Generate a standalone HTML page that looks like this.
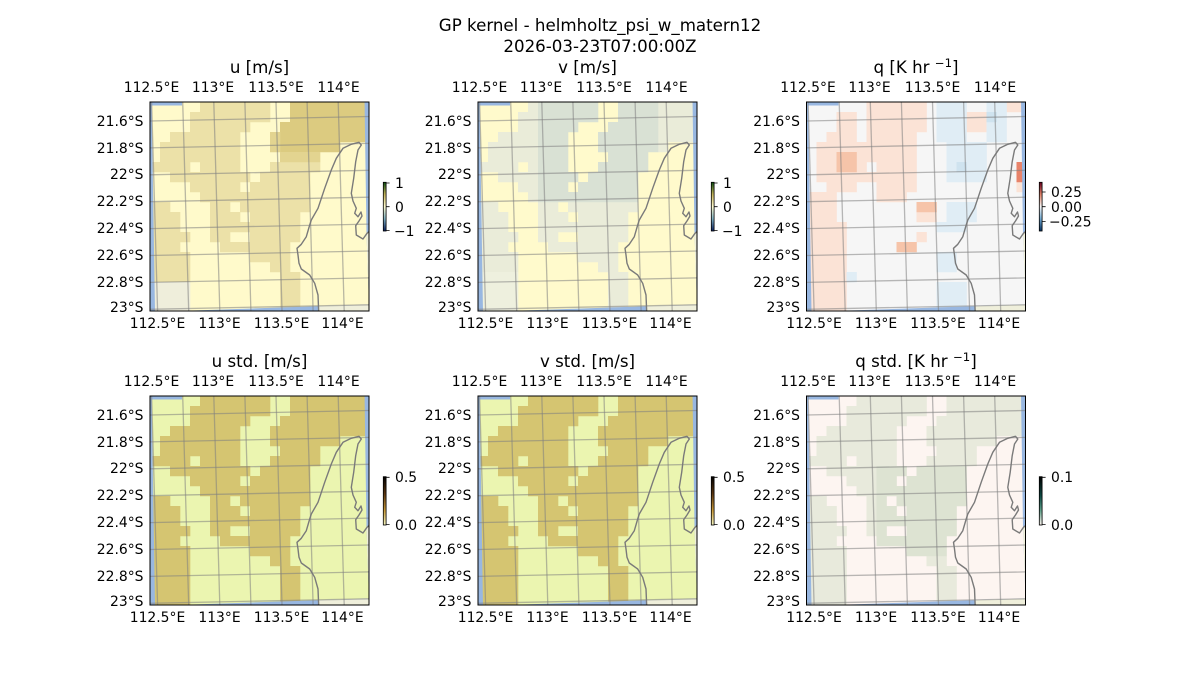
<!DOCTYPE html>
<html><head><meta charset="utf-8">
<style>
html,body{margin:0;padding:0;background:#fff;}
svg{display:block;}
text{font-family:"DejaVu Sans","Liberation Sans",sans-serif;fill:#000;}
.t{font-size:13.9px;}
.ti{font-size:16.67px;}
</style></head><body>
<svg id="fig" width="1200" height="700" viewBox="0 0 1200 700" xmlns="http://www.w3.org/2000/svg" xmlns:xlink="http://www.w3.org/1999/xlink">
<defs>
<clipPath id="pc"><rect x="0" y="0" width="219" height="209"/></clipPath>
<clipPath id="oc"><path clip-rule="evenodd" d="M-2 -2H222V212H-2Z M1.7 3.5 L32 3.5 L32 -3 L214.5 -3 L216.5 131 L219 202.5 L5 209.8 Z"/></clipPath>
<linearGradient id="g_uv" x1="0" y1="0" x2="0" y2="1">
<stop offset="0" stop-color="#0b4d12"/><stop offset="0.25" stop-color="#c4b35a"/><stop offset="0.5" stop-color="#fffbd0"/><stop offset="0.75" stop-color="#7eaec0"/><stop offset="1" stop-color="#0a1f5c"/>
</linearGradient>
<linearGradient id="g_q" x1="0" y1="0" x2="0" y2="1">
<stop offset="0" stop-color="#67001f"/><stop offset="0.25" stop-color="#e08268"/><stop offset="0.5" stop-color="#f7f7f7"/><stop offset="0.75" stop-color="#6fa8d0"/><stop offset="1" stop-color="#053061"/>
</linearGradient>
<linearGradient id="g_s" x1="0" y1="0" x2="0" y2="1">
<stop offset="0" stop-color="#000000"/><stop offset="0.35" stop-color="#5a3510"/><stop offset="0.7" stop-color="#c89a3a"/><stop offset="1" stop-color="#f5f5c0"/>
</linearGradient>
<linearGradient id="g_qs" x1="0" y1="0" x2="0" y2="1">
<stop offset="0" stop-color="#000000"/><stop offset="0.4" stop-color="#0d4a44"/><stop offset="0.7" stop-color="#5fa08a"/><stop offset="1" stop-color="#fff5f0"/>
</linearGradient>
<g id="over">
  <g clip-path="url(#oc)">
    <rect x="-2" y="-2" width="224" height="214" fill="#98b7e1"/>
    <path fill="#efefdb" d="M168.7,214 L168.7,210 L168,193 L164.7,181.3 L159.7,173 L151.3,167 L149,161.3 L148,153 L147,146.3 L151.3,142.3 L156.3,134.7 L159.7,123 L161.3,118 L168,106.3 L174.7,86.3 L181.3,68 L186.3,56.3 L193,46.3 L201.3,42.3 L209,40.3 L211.3,43 L208,48 L205.7,59.7 L203.7,76.3 L201.3,91.3 L203,99 L206.3,106.3 L204.7,111.3 L208,114.7 L211,110 L212,114 L209,119 L205.7,123.7 L206.3,133 L213,137 L217,131.3 L224,127 L224,214 Z"/>
  </g>
  <g stroke="#808080" stroke-opacity="0.55" stroke-width="1.3" fill="none">
    <line x1="1.6" y1="0" x2="7.6" y2="209"/>
    <line x1="32.7" y1="0" x2="38.7" y2="209"/>
    <line x1="63.8" y1="0" x2="69.8" y2="209"/>
    <line x1="94.9" y1="0" x2="100.9" y2="209"/>
    <line x1="126" y1="0" x2="132" y2="209"/>
    <line x1="157.1" y1="0" x2="163.1" y2="209"/>
    <line x1="188.2" y1="0" x2="194.2" y2="209"/>
    <line x1="0" y1="19" x2="219" y2="14.5"/>
    <line x1="0" y1="45.9" x2="219" y2="41.4"/>
    <line x1="0" y1="72.8" x2="219" y2="68.3"/>
    <line x1="0" y1="99.7" x2="219" y2="95.2"/>
    <line x1="0" y1="126.6" x2="219" y2="122.1"/>
    <line x1="0" y1="153.5" x2="219" y2="149"/>
    <line x1="0" y1="180.4" x2="219" y2="175.9"/>
    <line x1="0" y1="207.3" x2="219" y2="202.8"/>
  </g>
  <path fill="none" stroke="#7a7a7a" stroke-width="1.4" stroke-linejoin="round" d="M168.7,210 L168,193 L164.7,181.3 L159.7,173 L151.3,167 L149,161.3 L148,153 L147,146.3 L151.3,142.3 L156.3,134.7 L159.7,123 L161.3,118 L168,106.3 L174.7,86.3 L181.3,68 L186.3,56.3 L193,46.3 L201.3,42.3 L209,40.3 L211.3,43 L208,48 L205.7,59.7 L203.7,76.3 L201.3,91.3 L203,99 L206.3,106.3 L204.7,111.3 L208,114.7 L211,110 L212,114 L209,119 L205.7,123.7 L206.3,133 L213,137 L217,131.3 L222,127"/>
</g>
</defs>
<rect width="1200" height="700" fill="#fff"/>

<!-- suptitle -->
<text class="ti" x="600" y="31" text-anchor="middle">GP kernel - helmholtz_psi_w_matern12</text>
<text class="ti" x="600" y="52" text-anchor="middle">2026-03-23T07:00:00Z</text>

<!-- panels -->
<g transform="translate(150,102)"><g clip-path="url(#pc)"><rect width="219" height="209" fill="#fffacb"/><g id="c0"></g><use xlink:href="#over" href="#over"/></g><rect width="219" height="209" fill="none" stroke="#000" stroke-width="1"/></g>
<g transform="translate(478,102)"><g clip-path="url(#pc)"><rect width="219" height="209" fill="#fffacc"/><g id="c1"></g><use xlink:href="#over" href="#over"/></g><rect width="219" height="209" fill="none" stroke="#000" stroke-width="1"/></g>
<g transform="translate(806.5,102)"><g clip-path="url(#pc)"><rect width="219" height="209" fill="#f6f6f6"/><g id="c2"></g><use xlink:href="#over" href="#over"/></g><rect width="219" height="209" fill="none" stroke="#000" stroke-width="1"/></g>
<g transform="translate(150,396)"><g clip-path="url(#pc)"><rect width="219" height="209" fill="#ebf5b0"/><g id="c3"></g><use xlink:href="#over" href="#over"/></g><rect width="219" height="209" fill="none" stroke="#000" stroke-width="1"/></g>
<g transform="translate(478,396)"><g clip-path="url(#pc)"><rect width="219" height="209" fill="#ebf5b0"/><g id="c4"></g><use xlink:href="#over" href="#over"/></g><rect width="219" height="209" fill="none" stroke="#000" stroke-width="1"/></g>
<g transform="translate(806.5,396)"><g clip-path="url(#pc)"><rect width="219" height="209" fill="#fdf5f1"/><g id="c5"></g><use xlink:href="#over" href="#over"/></g><rect width="219" height="209" fill="none" stroke="#000" stroke-width="1"/></g>

<!-- panel titles -->
<text class="ti" x="259.5" y="73" text-anchor="middle">u [m/s]</text>
<text class="ti" x="587.5" y="73" text-anchor="middle">v [m/s]</text>
<text class="ti" x="916" y="73" text-anchor="middle">q [K hr <tspan dy="-6" font-size="11.7">−1</tspan><tspan dy="6">]</tspan></text>
<text class="ti" x="259.5" y="367" text-anchor="middle">u std. [m/s]</text>
<text class="ti" x="587.5" y="367" text-anchor="middle">v std. [m/s]</text>
<text class="ti" x="916" y="367" text-anchor="middle">q std. [K hr <tspan dy="-6" font-size="11.7">−1</tspan><tspan dy="6">]</tspan></text>

<!-- lon labels -->
<g class="t" text-anchor="middle">
<text x="151.5" y="92">112.5°E</text><text x="213" y="92">113°E</text><text x="276" y="92">113.5°E</text><text x="338.5" y="92">114°E</text>
<text x="479.5" y="92">112.5°E</text><text x="541" y="92">113°E</text><text x="604" y="92">113.5°E</text><text x="666.5" y="92">114°E</text>
<text x="808" y="92">112.5°E</text><text x="869.5" y="92">113°E</text><text x="932.5" y="92">113.5°E</text><text x="995" y="92">114°E</text>
<text x="157.5" y="328">112.5°E</text><text x="219.5" y="328">113°E</text><text x="281.5" y="328">113.5°E</text><text x="342.5" y="328">114°E</text>
<text x="485.5" y="328">112.5°E</text><text x="547.5" y="328">113°E</text><text x="609.5" y="328">113.5°E</text><text x="670.5" y="328">114°E</text>
<text x="814" y="328">112.5°E</text><text x="876" y="328">113°E</text><text x="938" y="328">113.5°E</text><text x="999" y="328">114°E</text>
<text x="151.5" y="386">112.5°E</text><text x="213" y="386">113°E</text><text x="276" y="386">113.5°E</text><text x="338.5" y="386">114°E</text>
<text x="479.5" y="386">112.5°E</text><text x="541" y="386">113°E</text><text x="604" y="386">113.5°E</text><text x="666.5" y="386">114°E</text>
<text x="808" y="386">112.5°E</text><text x="869.5" y="386">113°E</text><text x="932.5" y="386">113.5°E</text><text x="995" y="386">114°E</text>
<text x="157.5" y="622">112.5°E</text><text x="219.5" y="622">113°E</text><text x="281.5" y="622">113.5°E</text><text x="342.5" y="622">114°E</text>
<text x="485.5" y="622">112.5°E</text><text x="547.5" y="622">113°E</text><text x="609.5" y="622">113.5°E</text><text x="670.5" y="622">114°E</text>
<text x="814" y="622">112.5°E</text><text x="876" y="622">113°E</text><text x="938" y="622">113.5°E</text><text x="999" y="622">114°E</text>
</g>

<!-- lat labels -->
<g class="t" text-anchor="end">
<text x="143.5" y="126">21.6°S</text><text x="143.5" y="153">21.8°S</text><text x="143.5" y="179">22°S</text><text x="143.5" y="206">22.2°S</text><text x="143.5" y="233">22.4°S</text><text x="143.5" y="260">22.6°S</text><text x="143.5" y="287">22.8°S</text><text x="143.5" y="312">23°S</text>
<text x="471.5" y="126">21.6°S</text><text x="471.5" y="153">21.8°S</text><text x="471.5" y="179">22°S</text><text x="471.5" y="206">22.2°S</text><text x="471.5" y="233">22.4°S</text><text x="471.5" y="260">22.6°S</text><text x="471.5" y="287">22.8°S</text><text x="471.5" y="312">23°S</text>
<text x="800" y="126">21.6°S</text><text x="800" y="153">21.8°S</text><text x="800" y="179">22°S</text><text x="800" y="206">22.2°S</text><text x="800" y="233">22.4°S</text><text x="800" y="260">22.6°S</text><text x="800" y="287">22.8°S</text><text x="800" y="312">23°S</text>
<text x="143.5" y="420">21.6°S</text><text x="143.5" y="447">21.8°S</text><text x="143.5" y="473">22°S</text><text x="143.5" y="500">22.2°S</text><text x="143.5" y="527">22.4°S</text><text x="143.5" y="554">22.6°S</text><text x="143.5" y="581">22.8°S</text><text x="143.5" y="606">23°S</text>
<text x="471.5" y="420">21.6°S</text><text x="471.5" y="447">21.8°S</text><text x="471.5" y="473">22°S</text><text x="471.5" y="500">22.2°S</text><text x="471.5" y="527">22.4°S</text><text x="471.5" y="554">22.6°S</text><text x="471.5" y="581">22.8°S</text><text x="471.5" y="606">23°S</text>
<text x="800" y="420">21.6°S</text><text x="800" y="447">21.8°S</text><text x="800" y="473">22°S</text><text x="800" y="500">22.2°S</text><text x="800" y="527">22.4°S</text><text x="800" y="554">22.6°S</text><text x="800" y="581">22.8°S</text><text x="800" y="606">23°S</text>
</g>

<!-- colorbars -->
<g stroke="#000" stroke-width="0.8">
<rect x="383.3" y="182.3" width="2.8" height="48.7" fill="url(#g_uv)"/>
<rect x="711.3" y="182.3" width="2.8" height="48.7" fill="url(#g_uv)"/>
<rect x="1039.3" y="182.3" width="2.8" height="48.7" fill="url(#g_q)"/>
<rect x="383.3" y="476.7" width="2.8" height="48.3" fill="url(#g_s)"/>
<rect x="711.3" y="476.7" width="2.8" height="48.3" fill="url(#g_s)"/>
<rect x="1039.3" y="476.7" width="2.8" height="48.3" fill="url(#g_qs)"/>
<path fill="none" d="M386.1 183h3.5M386.1 206.7h3.5M386.1 230.6h3.5 M714.1 183h3.5M714.1 206.7h3.5M714.1 230.6h3.5 M1042.1 192h3.5M1042.1 206.7h3.5M1042.1 221.4h3.5 M386.1 477.3h3.5M386.1 524.6h3.5 M714.1 477.3h3.5M714.1 524.6h3.5 M1042.1 477.3h3.5M1042.1 524.6h3.5"/>
</g>
<g class="t">
<text x="395" y="188">1</text><text x="395" y="212">0</text><text x="394" y="236">−1</text>
<text x="723" y="188">1</text><text x="723" y="212">0</text><text x="722" y="236">−1</text>
<text x="1051" y="197">0.25</text><text x="1051" y="212">0.00</text><text x="1049" y="226.5">−0.25</text>
<text x="395" y="482">0.5</text><text x="395" y="530">0.0</text>
<text x="723" y="482">0.5</text><text x="723" y="530">0.0</text>
<text x="1051" y="482">0.1</text><text x="1051" y="530">0.0</text>
</g>
</svg>
<script>
(function(){
var NS="http://www.w3.org/2000/svg";
var M=[
".....DDDDDDD..DDDDDDDD",
"....DDDDDDDD..DDDDDDDD",
"....DDDDDD...DDDDDDDDD",
"..DDDDDDD...DDDDDDDDDD",
".DDDDDDDD...DDDDDDD...",
".DDDDDDDD....DDDD.....",
"DDDD.DDDD...DDDDD.....",
"..DDDDDDDD.DDDDD......",
"....DDDDD.DDDDDD......",
".....DDDDDDDDDDD......",
"DD....DD.DDDDDDD......",
"DDD...DDD.DDDDD.......",
"DDD...DDDDDDDDD.......",
"DDDD..DD..DDDDD.......",
"DDD....DDDDDDD........",
"DDDD......DDDD........",
"DDDD........DD........",
"DDDD.........DD.......",
"DDDD.........DD.......",
"DDDD.........DD.......",
"DDDD.........DD......."];
var Q=[
"......oooooo.bbb..bboo",
"...oo.oooooo.bbbooBb..",
"...oo.oooooo.bbboobb..",
"..ooo.ooooo..bbb..bb..",
".oooooooooo...bbbb....",
".ooOOoooooo...bbbb....",
".ooOOo.oooo...bBbb...R",
".oooooooooo...bbbb...R",
"..ooo..oooo..........o",
"ooo....ooo............",
"ooo........OO.bbb.....",
"ooo........oo.bbb.....",
"oooo.........bbb......",
"oooo.......o..........",
"oooo.....OO...........",
"oooo.........bb.......",
"oooo.........bb.......",
"oooob.................",
"oooo.........bbb......",
"oooo.........bbb......",
"oooo.........bbb......"];
var QC={o:"#fbe3d6",O:"#f6c4a9",b:"#e0edf5",B:"#cfe3ef",R:"#e8836a"};
function build(id,fn){
  var g=document.getElementById(id); if(!g) return;
  var paths={};
  for(var r=0;r<21;r++){for(var c=0;c<22;c++){
    var col=fn(M[r].charAt(c),c,r,Q[r].charAt(c)); if(!col) continue;
    (paths[col]=paths[col]||[]).push("M"+(c*10)+" "+(r*10)+"h10.3v10.3h-10.3z");
  }}
  for(var k in paths){var p=document.createElementNS(NS,"path");p.setAttribute("d",paths[k].join(""));p.setAttribute("fill",k);g.appendChild(p);}
}
build("c0",function(ch,c,r){ if(c<=3&&r>=18) return "#efeedb"; if(ch!=="D") return null; if(r<=4&&c>=13) return "#dccb80"; if(r<=5&&c>=12) return "#e3d490"; return "#ece1a8";});
build("c1",function(ch,c,r){ if(c<=3&&r>=17) return "#eef0de"; if(ch!=="D") return null; if(r<=9&&c>=6&&c<=17) return "#d9e1d4"; return "#eaecd9";});
build("c2",function(ch,c,r,q){ return QC[q]||null;});
build("c3",function(ch){ return ch==="D"?"#d5c571":null;});
build("c4",function(ch){ return ch==="D"?"#d5c571":null;});
build("c5",function(ch,c,r){ if(ch!=="D") return null; if(r>=7&&r<=15&&c>=7&&c<=15) return "#dde3d2"; return "#e8eadc";});
})();
</script>
</body></html>
